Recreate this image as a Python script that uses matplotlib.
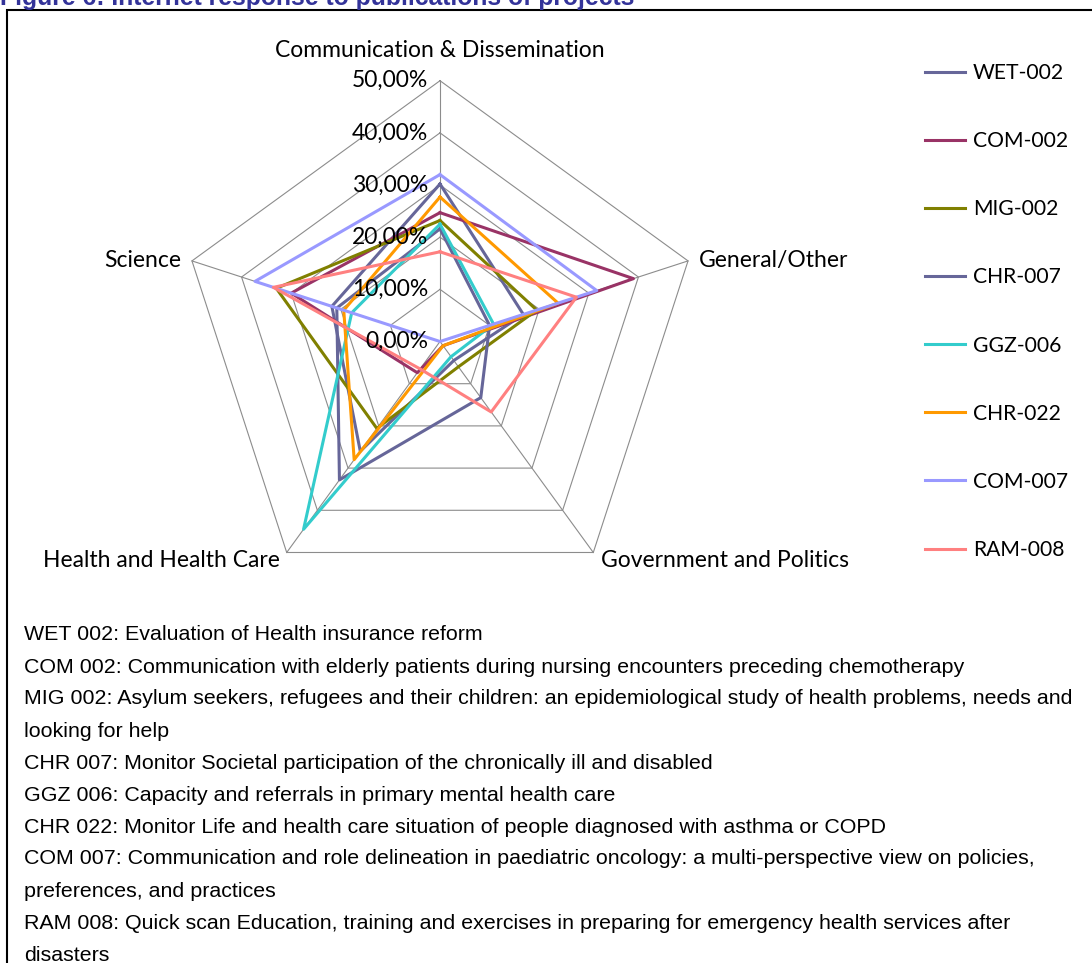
import numpy as np
import matplotlib.pyplot as plt
from matplotlib.lines import Line2D
from matplotlib.patches import Rectangle
from matplotlib.transforms import offset_copy

W, H = 1092, 963

CATEGORIES = [
    "Communication & Dissemination",
    "General/Other",
    "Government and Politics",
    "Health and Health Care",
    "Science",
]
PROJECTS = ["WET-002", "COM-002", "MIG-002", "CHR-007", "GGZ-006", "CHR-022", "COM-007", "RAM-008"]

# percentages per category, same order as CATEGORIES
WET_002 = [30.2, 16.8, 4.5, 26.0, 21.8]
COM_002 = [24.7, 39.0, 1.0, 7.4, 30.0]
MIG_002 = [23.2, 19.5, 6.0, 20.6, 33.0]
CHR_007 = [21.6, 10.0, 13.3, 32.8, 20.8]
GGZ_006 = [22.5, 10.8, 3.6, 44.5, 17.8]
CHR_022 = [27.7, 23.8, 1.0, 28.0, 19.4]
COM_007 = [32.0, 31.6, 0.0, 0.0, 37.3]
RAM_008 = [17.2, 27.5, 16.7, 6.5, 33.6]
SERIES = [WET_002, COM_002, MIG_002, CHR_007, GGZ_006, CHR_022, COM_007, RAM_008]

COLORS = ["#666699", "#993366", "#808000", "#666699", "#33CCCC", "#FF9900", "#9999FF", "#FF8080"]

TICKS = [0, 10, 20, 30, 40, 50]
TICK_LABELS = ["0,00%", "10,00%", "20,00%", "30,00%", "40,00%", "50,00%"]

TITLE = "Figure 6: Internet response to publications of projects"
NOTES = [
    "WET 002: Evaluation of Health insurance reform",
    "COM 002: Communication with elderly patients during nursing encounters preceding chemotherapy",
    "MIG 002: Asylum seekers, refugees and their children: an epidemiological study of health problems, needs and",
    "looking for help",
    "CHR 007: Monitor Societal participation of the chronically ill and disabled",
    "GGZ 006: Capacity and referrals in primary mental health care",
    "CHR 022: Monitor Life and health care situation of people diagnosed with asthma or COPD",
    "COM 007: Communication and role delineation in paediatric oncology: a multi-perspective view on policies,",
    "preferences, and practices",
    "RAM 008: Quick scan Education, training and exercises in preparing for emergency health services after",
    "disasters",
]

CHART_FONT = "Lato"
NOTE_FONT = "Liberation Sans"

fig = plt.figure(figsize=(W / 100, H / 100), dpi=100)
fig.patch.set_facecolor("white")

# radar centre (440, 341.5) px, outer radius ~261 px
cx, cy, rad = 440, 341.5, 260.8
ax = fig.add_axes([(cx - rad) / W, 1 - (cy + rad) / H, 2 * rad / W, 2 * rad / H], projection="polar")
ax.set_theta_offset(np.pi / 2)
ax.set_theta_direction(-1)
ax.set_ylim(0, 50)
ax.grid(False)
ax.spines["polar"].set_visible(False)
ax.set_xticks([])
ax.set_yticks([])
ax.patch.set_alpha(0)

angles = np.arange(len(CATEGORIES)) * 2 * np.pi / len(CATEGORIES)
closed = np.append(angles, angles[0])

grid_kw = dict(color="#8c8c8c", lw=0.8, clip_on=False, zorder=1)
for r in TICKS[1:]:
    ax.plot(closed, [r] * len(closed), **grid_kw)
for a in angles:
    ax.plot([a, a], [0, TICKS[-1]], **grid_kw)

for vals, color in zip(SERIES, COLORS):
    ax.plot(closed, vals + vals[:1], color=color, lw=2.2, clip_on=False, zorder=3)

tick_tr = offset_copy(ax.transData, fig=fig, x=-12, y=0, units="dots")
for r, lab in zip(TICKS, TICK_LABELS):
    ax.text(0, r, lab, transform=tick_tr, ha="right", va="center",
            fontsize=16.5, family=CHART_FONT, zorder=4)

# label placement: (dx, dy, ha, va) offsets in pixels from the outer vertex
label_pos = [(0, 30, "center", "center"), (11, 0, "left", "center"),
             (8, -8, "left", "center"), (-7, -8, "right", "center"), (-11, 0, "right", "center")]
for a, name, (dx, dy, ha, va) in zip(angles, CATEGORIES, label_pos):
    tr = offset_copy(ax.transData, fig=fig, x=dx, y=dy, units="dots")
    ax.text(a, TICKS[-1], name, transform=tr, ha=ha, va=va, fontsize=16.5, family=CHART_FONT)

handles = [Line2D([], [], color=c, lw=2.2) for c in COLORS]
fig.legend(handles, PROJECTS, loc="upper left", bbox_to_anchor=(925 / W, 1 - 63 / H),
           frameon=False, handlelength=1.9, handletextpad=0.38, labelspacing=2.28,
           prop={"family": CHART_FONT, "size": 15.2}, borderaxespad=0, borderpad=0)

# frame around the figure body
fig.add_artist(Rectangle((7 / W, -0.1), 1.2, 1 - 10 / H + 0.1, transform=fig.transFigure,
                         fill=False, lw=1.5, edgecolor="black"))

fig.text(0, 1 - 5 / H, TITLE, ha="left", va="baseline", fontsize=17.8, fontweight="bold",
         color="#333399", family=NOTE_FONT)

for i, line in enumerate(NOTES):
    fig.text(24 / W, 1 - (635 + 32 * i) / H, line, ha="left", va="center",
             fontsize=15.4, family=NOTE_FONT)

fig.savefig("out.png", dpi=100, facecolor="white")
